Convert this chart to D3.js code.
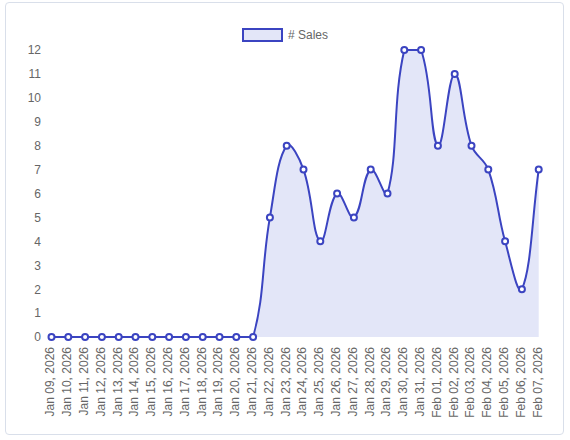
<!DOCTYPE html>
<html>
<head>
<meta charset="utf-8">
<script src="https://cdn.jsdelivr.net/npm/d3@7"></script>
<style>
  html, body { margin: 0; padding: 0; background: #ffffff; }
  body { width: 570px; height: 440px; overflow: hidden; }
  .card { position: absolute; left: 5px; top: 2px; width: 559px; height: 433px;
          border: 1px solid #d9dfea; border-radius: 4px; box-sizing: border-box; }
  svg { position: absolute; left: 0; top: 0; }
  text { font-family: "Liberation Sans", Arial, Helvetica, sans-serif; font-size: 12px; fill: #666666; }
</style>
</head>
<body>
<div class="card"></div>
<svg id="chart" width="570" height="440"></svg>
<script>
const categories = ["Jan 09, 2026","Jan 10, 2026","Jan 11, 2026","Jan 12, 2026","Jan 13, 2026","Jan 14, 2026","Jan 15, 2026","Jan 16, 2026","Jan 17, 2026","Jan 18, 2026","Jan 19, 2026","Jan 20, 2026","Jan 21, 2026","Jan 22, 2026","Jan 23, 2026","Jan 24, 2026","Jan 25, 2026","Jan 26, 2026","Jan 27, 2026","Jan 28, 2026","Jan 29, 2026","Jan 30, 2026","Jan 31, 2026","Feb 01, 2026","Feb 02, 2026","Feb 03, 2026","Feb 04, 2026","Feb 05, 2026","Feb 06, 2026","Feb 07, 2026"];
const sales = [0,0,0,0,0,0,0,0,0,0,0,0,0,5,8,7,4,6,5,7,6,12,12,8,11,8,7,4,2,7];
const yTicks = [0,1,2,3,4,5,6,7,8,9,10,11,12];
const seriesName = "# Sales";

const lineColor = "#3b44c1";
const fillColor = "#e3e6f8";

const svg = d3.select("#chart");
const area = { left: 51.5, right: 538.7, top: 50, bottom: 337 };

const x = d3.scalePoint().domain(categories).range([area.left, area.right]);
const y = d3.scaleLinear().domain([0, 12]).range([area.bottom, area.top]);

// Y axis (no gridlines, no domain line)
const yAxis = d3.axisLeft(y).tickValues(yTicks).tickSize(0).tickPadding(0).tickFormat(d3.format("d"));
const gy = svg.append("g").attr("transform", "translate(41,0)").call(yAxis);
gy.select(".domain").remove();
gy.selectAll("text").attr("fill", "#666").style("font-size", "12px")
  .style("font-family", '"Liberation Sans", Arial, sans-serif');

// X axis rotated labels
const xAxis = d3.axisBottom(x).tickSize(0).tickPadding(0);
const gx = svg.append("g").attr("transform", "translate(0,347)").call(xAxis);
gx.select(".domain").remove();
gx.selectAll("text")
  .attr("fill", "#666").style("font-size", "12px")
  .style("font-family", '"Liberation Sans", Arial, sans-serif')
  .attr("text-anchor", "end")
  .attr("transform", "rotate(-90)")
  .attr("x", 0).attr("y", 0).attr("dy", "0.2em");

// Chart.js-style spline (tension 0.4) with capped control points
const pts = sales.map((v, i) => ({ x: x(categories[i]), y: y(v) }));
const tension = 0.4;
const cap = (p) => ({ x: Math.max(area.left, Math.min(area.right, p.x)), y: Math.max(area.top, Math.min(area.bottom, p.y)) });
pts.forEach((p, i) => {
  const prev = pts[Math.max(0, i - 1)];
  const next = pts[Math.min(pts.length - 1, i + 1)];
  const d01 = Math.hypot(p.x - prev.x, p.y - prev.y);
  const d12 = Math.hypot(next.x - p.x, next.y - p.y);
  let s01 = d01 / (d01 + d12), s12 = d12 / (d01 + d12);
  if (!isFinite(s01)) s01 = 0; if (!isFinite(s12)) s12 = 0;
  const fa = tension * s01, fb = tension * s12;
  p.cp1 = cap({ x: p.x - fa * (next.x - prev.x), y: p.y - fa * (next.y - prev.y) });
  p.cp2 = cap({ x: p.x + fb * (next.x - prev.x), y: p.y + fb * (next.y - prev.y) });
});
function linePath(path) {
  path.moveTo(pts[0].x, pts[0].y);
  for (let i = 1; i < pts.length; i++) {
    const a = pts[i - 1], b = pts[i];
    path.bezierCurveTo(a.cp2.x, a.cp2.y, b.cp1.x, b.cp1.y, b.x, b.y);
  }
  return path;
}
const areaP = linePath(d3.path());
areaP.lineTo(pts[pts.length - 1].x, y(0));
areaP.lineTo(pts[0].x, y(0));
areaP.closePath();
svg.append("path").attr("d", areaP.toString()).attr("fill", fillColor).attr("stroke", "none");
svg.append("path").attr("d", linePath(d3.path()).toString())
  .attr("fill", "none").attr("stroke", lineColor).attr("stroke-width", 2);

svg.append("g").selectAll("circle").data(sales).join("circle")
  .attr("cx", (d, i) => x(categories[i])).attr("cy", d => y(d)).attr("r", 3)
  .attr("fill", "#fff").attr("stroke", lineColor).attr("stroke-width", 2);

// Legend
const lg = svg.append("g");
lg.append("rect").attr("x", 243).attr("y", 29).attr("width", 39).attr("height", 12)
  .attr("fill", fillColor).attr("stroke", lineColor).attr("stroke-width", 2);
lg.append("text").attr("x", 288).attr("y", 35).attr("dy", "0.35em").text(seriesName);
</script>
</body>
</html>
